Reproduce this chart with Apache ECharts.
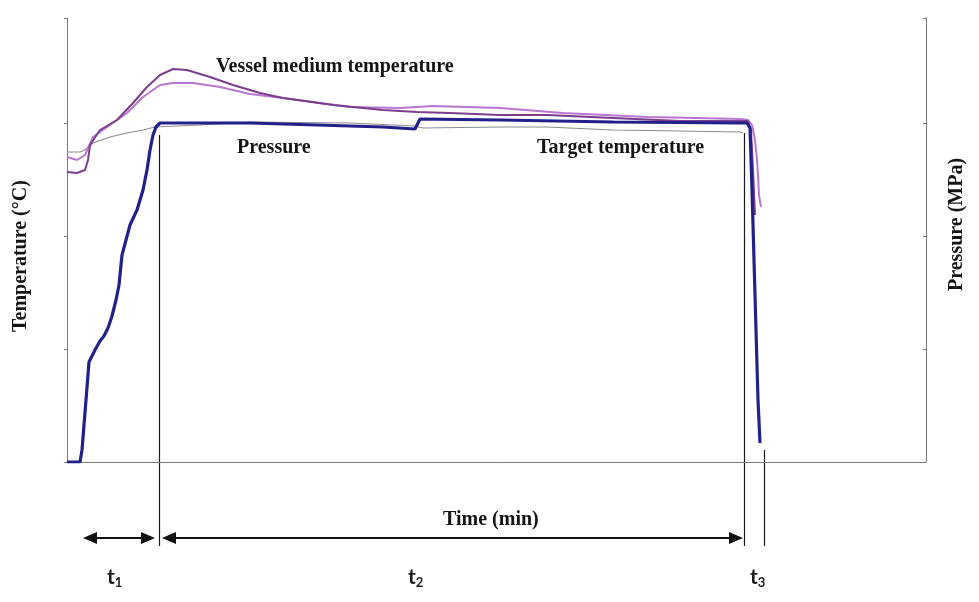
<!DOCTYPE html>
<html>
<head>
<meta charset="utf-8">
<script src="https://cdn.jsdelivr.net/npm/echarts@6/dist/echarts.min.js"></script>
<style>
  html, body { margin: 0; padding: 0; background: #fff; }
  #chart { width: 979px; height: 602px; }
</style>
</head>
<body>
<div id="chart"></div>
<script>
// values: [time, reading] (axis units, no labels on the original)
const pressure = [
  [0, 0], [13, 0], [15, 12], [19, 62], [22, 100], [28, 112], [33, 121], [37, 126],
  [41, 134], [45, 146], [49, 162], [52, 177], [55, 207], [63, 237], [70, 252],
  [76, 272], [80, 292], [83, 312], [86, 327], [89, 335], [93, 339], [183, 339],
  [250, 337], [316, 335], [348, 333], [353, 343], [433, 342], [546, 340],
  [673, 339], [680, 339], [683, 334], [685, 272], [687, 202], [689, 132],
  [691, 62], [693, 19]
];
const targetTemp = [
  [0, 310], [13, 310], [18, 312], [26, 319], [43, 325], [60, 329], [76, 332],
  [88, 335], [133, 337], [183, 340], [283, 339], [348, 336], [356, 334],
  [433, 335], [480, 335], [546, 332], [613, 331], [673, 330], [676, 329]
];
const vesselTempA = [
  [0, 305], [10, 302], [18, 307], [26, 325], [43, 337], [60, 349], [76, 365],
  [93, 377], [106, 379], [126, 379], [153, 375], [183, 368], [216, 364],
  [283, 355], [333, 354], [366, 356], [433, 354], [496, 349], [580, 345],
  [630, 344], [673, 343], [681, 342], [685, 337], [688, 322], [690, 302],
  [691, 287], [692, 267], [694, 255]
];
const vesselTempB = [
  [0, 290], [10, 289], [18, 292], [21, 302], [23, 317], [33, 332], [50, 342],
  [66, 359], [80, 375], [93, 387], [106, 393], [120, 392], [143, 385],
  [166, 377], [193, 369], [216, 364], [266, 357], [316, 352], [350, 350],
  [383, 349], [433, 347], [480, 347], [546, 344], [613, 341], [673, 341],
  [681, 341], [684, 332], [686, 292], [688, 247]
];
// end of each stage t1, t2, t3 and where its marker line starts
const stageEnds = [92, 677, 697];
const stageLineTop = [327, 329, 12];
const stageNames = ['1', '2', '3'];
const tickStep = 113;
const timeMax = 859;
const valueMax = 444;

const chart = echarts.init(document.getElementById('chart'));

const serif = 'Liberation Serif, Times New Roman, serif';
const axisColor = '#7a7a7a';

chart.setOption({
  animation: false,
  grid: { left: 67, right: 53, top: 18, bottom: 140 },
  xAxis: {
    type: 'value', min: 0, max: timeMax,
    axisLine: { show: true, onZero: false, lineStyle: { color: axisColor, width: 1 } },
    axisTick: { show: false }, axisLabel: { show: false }, splitLine: { show: false }
  },
  yAxis: [
    {
      type: 'value', min: 0, max: valueMax, interval: tickStep, position: 'left',
      axisLine: { show: true, lineStyle: { color: axisColor, width: 1 } },
      axisTick: { show: true, length: 3, lineStyle: { color: axisColor } },
      axisLabel: { show: false }, splitLine: { show: false }
    },
    {
      type: 'value', min: 0, max: valueMax, interval: tickStep, position: 'right',
      axisLine: { show: true, lineStyle: { color: axisColor, width: 1 } },
      axisTick: { show: true, inside: true, length: 3, lineStyle: { color: axisColor } },
      axisLabel: { show: false }, splitLine: { show: false }
    }
  ],
  series: [
    { name: 'Target temperature', type: 'line', data: targetTemp, showSymbol: false,
      lineStyle: { color: '#8c8c8c', width: 1.2 }, z: 2 },
    { name: 'Vessel medium temperature A', type: 'line', data: vesselTempA, showSymbol: false,
      lineStyle: { color: '#b877d0', width: 2 }, z: 3 },
    { name: 'Vessel medium temperature B', type: 'line', data: vesselTempB, showSymbol: false,
      lineStyle: { color: '#7d3d8e', width: 2 }, z: 3 },
    { name: 'Pressure', type: 'line', data: pressure, showSymbol: false,
      lineStyle: { color: '#22218a', width: 3.2 }, z: 4 }
  ]
});

function px(t, v) {
  return chart.convertToPixel({ gridIndex: 0 }, [t, v]);
}

function head(x, y, dir) {
  return {
    type: 'polygon',
    shape: { points: [[x, y], [x - dir * 14, y - 6], [x - dir * 14, y + 6]] },
    style: { fill: '#111' }
  };
}

function label(text, x, y, size) {
  return {
    type: 'text', x: x, y: y,
    style: { text: text, font: 'bold ' + size + 'px ' + serif, fill: '#151515' }
  };
}

const origin = px(0, 0);
const ends = stageEnds.map((t, i) => px(t, stageLineTop[i]));
const lineBottom = 546;
const arrowY = 538;

const graphics = [];
ends.forEach((p) => {
  const x = Math.round(p[0]) + 0.5;
  graphics.push({
    type: 'line',
    shape: { x1: x, y1: p[1], x2: x, y2: lineBottom },
    style: { stroke: '#1a1a1a', lineWidth: 1.2 }
  });
});

// t1 arrow
const a1 = origin[0] + 16, b1 = ends[0][0] - 4;
graphics.push({ type: 'line', shape: { x1: a1 + 6, y1: arrowY, x2: b1 - 6, y2: arrowY },
  style: { stroke: '#111', lineWidth: 1.8 } });
graphics.push(head(a1, arrowY, -1), head(b1, arrowY, 1));
// t2 arrow
const a2 = ends[0][0] + 3, b2 = ends[1][0] - 1;
graphics.push({ type: 'line', shape: { x1: a2 + 6, y1: arrowY, x2: b2 - 6, y2: arrowY },
  style: { stroke: '#111', lineWidth: 1.8 } });
graphics.push(head(a2, arrowY, -1), head(b2, arrowY, 1));

// stage names
const stageX = [107, 408, 750];
stageNames.forEach((n, i) => {
  graphics.push({
    type: 'text', x: stageX[i], y: 566,
    style: {
      text: '{t|t}{s|' + n + '}',
      rich: {
        t: { font: 'bold 21px Lato, sans-serif', fill: '#1a1a1a' },
        s: { font: 'bold 13px Lato, sans-serif', fill: '#1a1a1a', padding: [10, 0, 0, 0] }
      }
    }
  });
});

graphics.push(label('Vessel medium temperature', 216, 57, 20));
graphics.push(label('Pressure', 237, 138, 20));
graphics.push(label('Target temperature', 537, 138, 20));
graphics.push(label('Time (min)', 443, 510, 20));
graphics.push({
  type: 'text', x: 11, y: 332, rotation: Math.PI / 2,
  style: { text: 'Temperature (°C)', font: 'bold 20px ' + serif, fill: '#151515' }
});
graphics.push({
  type: 'text', x: 947, y: 291, rotation: Math.PI / 2,
  style: { text: 'Pressure (MPa)', font: 'bold 20px ' + serif, fill: '#151515' }
});

chart.setOption({ graphic: graphics });
</script>
</body>
</html>
